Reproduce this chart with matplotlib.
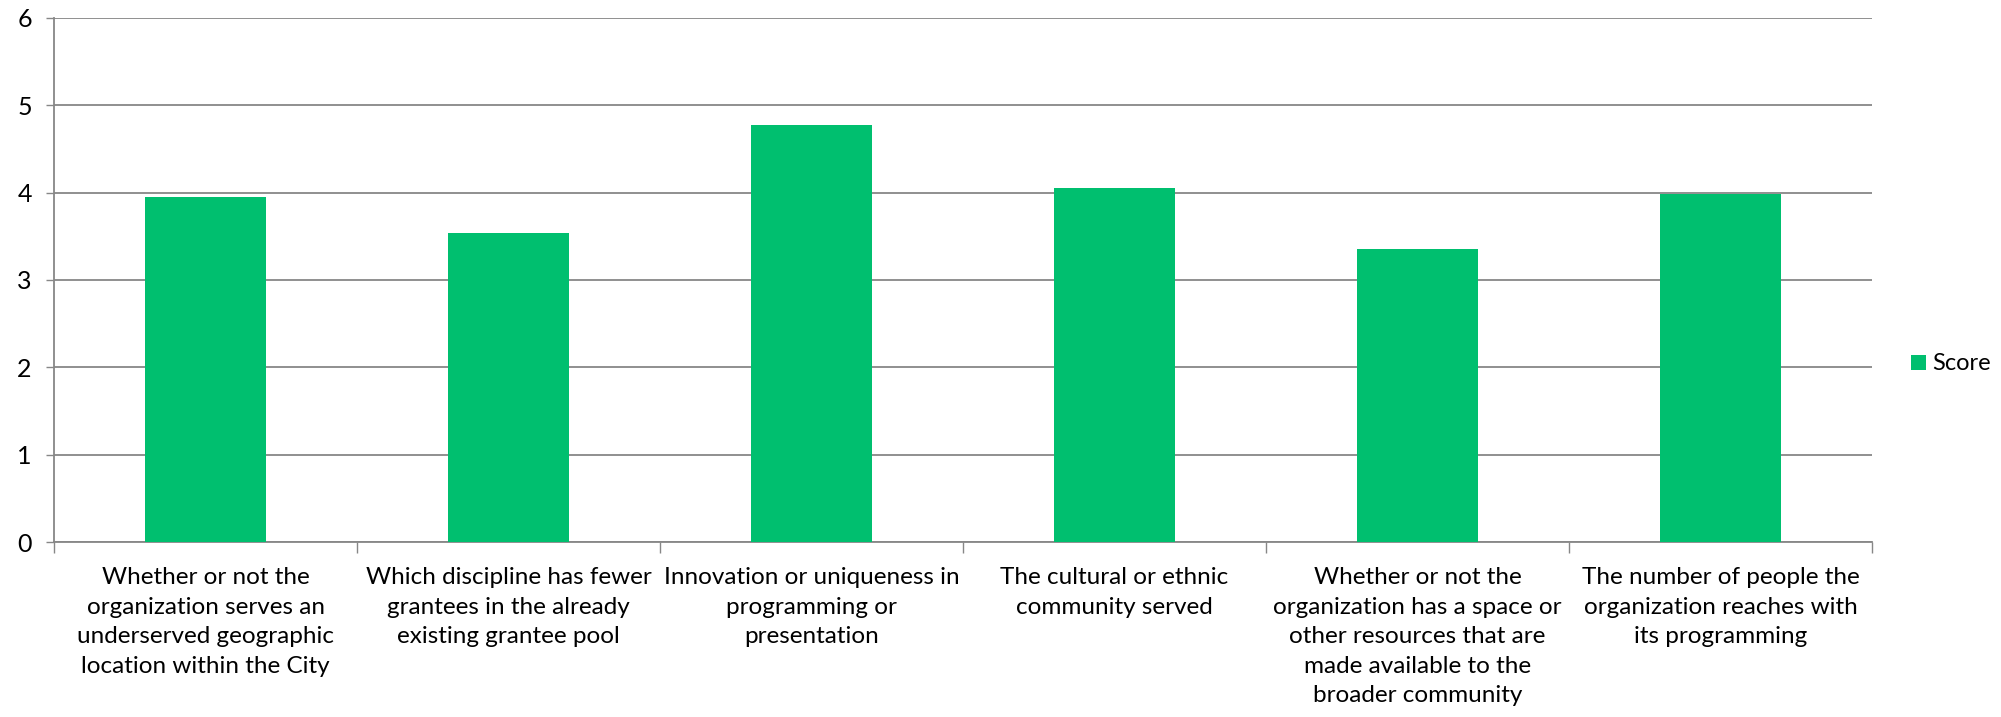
import numpy as np
import matplotlib
matplotlib.use("Agg")
import matplotlib.pyplot as plt

# criteria and their average scores
criteria = [
    "Whether or not the\norganization serves an\nunderserved geographic\nlocation within the City",
    "Which discipline has fewer\ngrantees in the already\nexisting grantee pool",
    "Innovation or uniqueness in\nprogramming or\npresentation",
    "The cultural or ethnic\ncommunity served",
    "Whether or not the\norganization has a space or\nother resources that are\nmade available to the\nbroader community",
    "The number of people the\norganization reaches with\nits programming",
]
scores = [3.95, 3.54, 4.77, 4.05, 3.35, 3.98]
series_name = "Score"
yticks = [0, 1, 2, 3, 4, 5, 6]

plt.rcParams['font.family'] = ['Lato', 'DejaVu Sans']

green = "#00BF6F"
gray = "#878787"

fig = plt.figure(figsize=(20.01, 7.17), dpi=100)
ax = fig.add_axes([0.027, 0.244, 0.9085, 0.731])

x = np.arange(len(criteria))
ax.bar(x, scores, width=0.4, color=green, label=series_name, zorder=3)

ax.set_xlim(-0.5, len(criteria) - 0.5)
ax.set_ylim(0, 6)
ax.set_yticks(yticks)
ax.set_yticklabels([str(t) for t in yticks], fontsize=18)
ax.yaxis.grid(True, color=gray, linewidth=1.3, zorder=0)

ax.set_xticks(x)
ax.set_xticklabels(criteria, fontsize=17.5, linespacing=1.5)
ax.set_xticks(np.arange(len(criteria) + 1) - 0.5, minor=True)
ax.tick_params(axis='x', which='major', length=0, pad=18)
ax.tick_params(axis='x', which='minor', length=8, color=gray, width=1)
ax.tick_params(axis='y', length=6, color=gray, width=1, pad=10)

for side in ['top', 'right']:
    ax.spines[side].set_visible(False)
for side in ['left', 'bottom']:
    ax.spines[side].set_color(gray)
    ax.spines[side].set_linewidth(1.3)

# legend sits to the right, a little below mid-height
ax.legend(loc='center left', bbox_to_anchor=(1.01, 0.34), frameon=False,
          fontsize=17, handlelength=0.6, handleheight=0.6, handletextpad=0.3)

fig.savefig("out.png", dpi=100)
